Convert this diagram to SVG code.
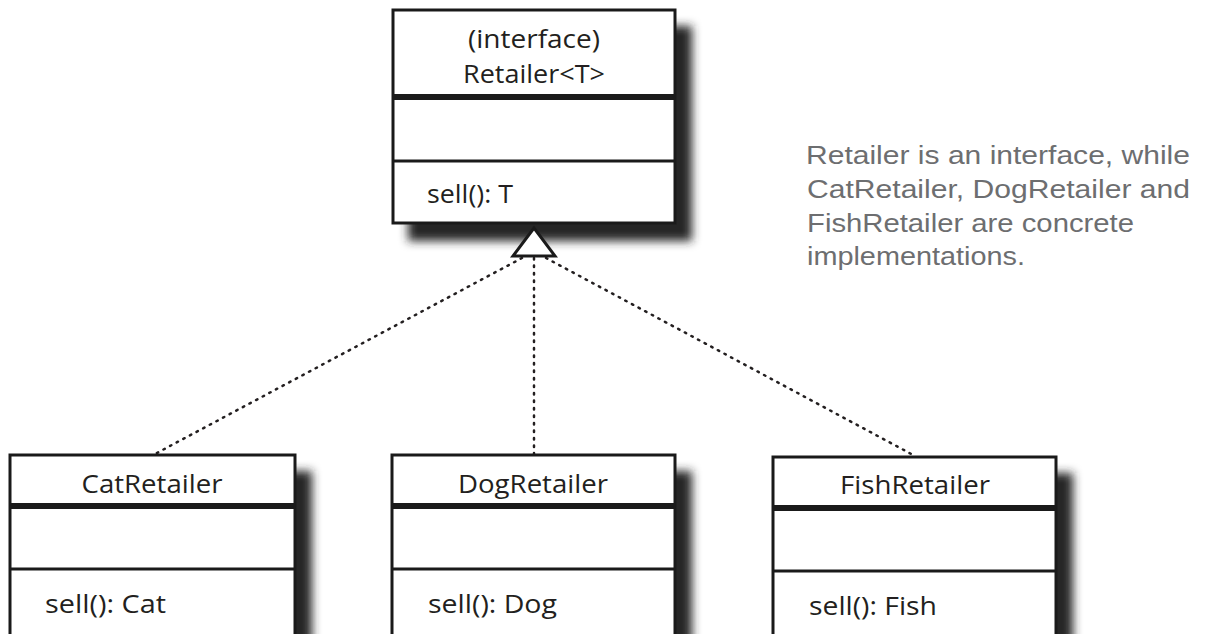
<svg xmlns="http://www.w3.org/2000/svg" width="1206" height="634" viewBox="0 0 1206 634">
  <defs>
    <filter id="sh" x="-20%" y="-20%" width="150%" height="150%">
      <feGaussianBlur stdDeviation="5"/>
    </filter>
  </defs>
  <style>
    .shadow { fill: #262626; filter: url(#sh); }
    .box { fill: #ffffff; stroke: #1a1a1a; stroke-width: 3; }
    .thick { stroke: #1a1a1a; stroke-width: 6; }
    .thin { stroke: #1a1a1a; stroke-width: 3; }
    .t { font-family: "Open Sans", "Noto Sans", sans-serif; font-size: 26px; fill: #231f20; }
    .c { text-anchor: middle; }
    .dot { fill: none; stroke: #231f20; stroke-width: 2.5; stroke-dasharray: 1.5 6; stroke-linecap: round; }
    .note { font-family: "Liberation Sans Narrow", "Liberation Sans", sans-serif; font-size: 26px; fill: #6d6e70; }
  </style>
  <rect width="1206" height="634" fill="#ffffff"/>

  <g id="connectors">
    <line class="dot" x1="522" y1="258" x2="155" y2="454"/>
    <line class="dot" x1="534" y1="258" x2="534" y2="454"/>
    <line class="dot" x1="546" y1="258" x2="915" y2="456"/>
  </g>

  <g id="retailer">
    <rect class="shadow" x="408" y="26" width="284" height="215"/>
    <rect class="box" x="393" y="10" width="282" height="213"/>
    <line class="thick" x1="393" y1="97" x2="675" y2="97"/>
    <line class="thin" x1="393" y1="161" x2="675" y2="161"/>
    <text class="t c" x="534" y="48" textLength="132" lengthAdjust="spacingAndGlyphs">(interface)</text>
    <text class="t c" x="534" y="83" textLength="142" lengthAdjust="spacingAndGlyphs">Retailer&lt;T&gt;</text>
    <text class="t" x="427" y="203" textLength="86" lengthAdjust="spacingAndGlyphs">sell(): T</text>
    <polygon points="534,228 513,256 555,256" fill="#ffffff" stroke="#1a1a1a" stroke-width="3" stroke-linejoin="miter"/>
  </g>

  <g id="catRetailer">
    <rect class="shadow" x="25" y="471" width="287" height="190"/>
    <rect class="box" x="10" y="455" width="285" height="200"/>
    <line class="thick" x1="10" y1="506" x2="295" y2="506"/>
    <line class="thin" x1="10" y1="569" x2="295" y2="569"/>
    <text class="t c" x="152" y="493" textLength="141" lengthAdjust="spacingAndGlyphs">CatRetailer</text>
    <text class="t" x="45" y="613" textLength="121" lengthAdjust="spacingAndGlyphs">sell(): Cat</text>
  </g>

  <g id="dogRetailer">
    <rect class="shadow" x="407" y="471" width="285" height="190"/>
    <rect class="box" x="392" y="455" width="283" height="200"/>
    <line class="thick" x1="392" y1="506" x2="675" y2="506"/>
    <line class="thin" x1="392" y1="569" x2="675" y2="569"/>
    <text class="t c" x="533" y="493" textLength="150" lengthAdjust="spacingAndGlyphs">DogRetailer</text>
    <text class="t" x="428" y="613" textLength="129" lengthAdjust="spacingAndGlyphs">sell(): Dog</text>
  </g>

  <g id="fishRetailer">
    <rect class="shadow" x="788" y="473" width="285" height="190"/>
    <rect class="box" x="773" y="457" width="283" height="200"/>
    <line class="thick" x1="773" y1="508" x2="1056" y2="508"/>
    <line class="thin" x1="773" y1="571" x2="1056" y2="571"/>
    <text class="t c" x="915" y="494" textLength="150" lengthAdjust="spacingAndGlyphs">FishRetailer</text>
    <text class="t" x="809" y="615" textLength="128" lengthAdjust="spacingAndGlyphs">sell(): Fish</text>
  </g>

  <g id="note">
    <text class="note" x="806" y="164" textLength="384" lengthAdjust="spacingAndGlyphs">Retailer is an interface, while</text>
    <text class="note" x="807" y="198" textLength="383" lengthAdjust="spacingAndGlyphs">CatRetailer, DogRetailer and</text>
    <text class="note" x="807" y="232" textLength="327" lengthAdjust="spacingAndGlyphs">FishRetailer are concrete</text>
    <text class="note" x="807" y="265" textLength="218" lengthAdjust="spacingAndGlyphs">implementations.</text>
  </g>
</svg>
